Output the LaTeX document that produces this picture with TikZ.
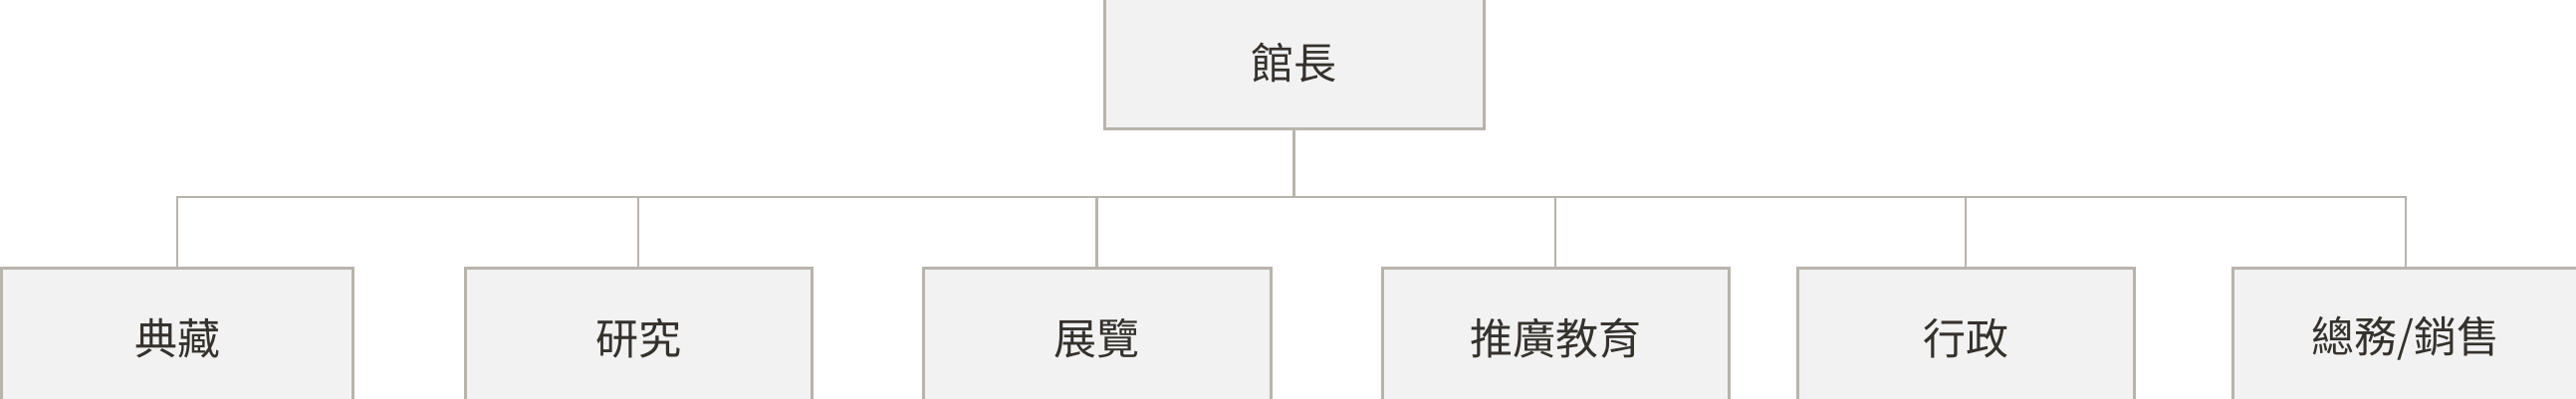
\documentclass[tikz,border=0pt]{standalone}
\usepackage{fontspec}
\newfontfamily\cjk{Noto Sans CJK TC}
\definecolor{boxfill}{HTML}{F2F2F2}
\definecolor{boxline}{HTML}{B8B4AC}
\definecolor{txt}{HTML}{35312D}
\tikzset{
  orgbox/.style={draw=boxline, fill=boxfill, line width=3bp, inner sep=0pt,
    minimum width=350bp, minimum height=142bp, text=txt,
    font=\cjk\fontsize{43bp}{50bp}\selectfont},
  conn/.style={draw=boxline, line width=2.8bp}
}
\begin{document}
\begin{tikzpicture}[x=1bp,y=-1bp]
\useasboundingbox (0,0) rectangle (2587,400);
\clip (0,0) rectangle (2587,400);
\fill[white] (0,0) rectangle (2587,400);
\node[orgbox, minimum width=381bp, minimum height=132bp] (top) at (1299.5,63) {館長};
\node[orgbox, minimum width=352bp] (c1) at (178,340) {典藏};
\node[orgbox, minimum width=348bp] (c2) at (641,340) {研究};
\node[orgbox, minimum width=349bp] (c3) at (1101.5,340) {展覽};
\node[orgbox, minimum width=348bp] (c4) at (1562,340) {推廣教育};
\node[orgbox, minimum width=338bp] (c5) at (1974,340) {行政};
\node[orgbox, minimum width=348bp] (c6) at (2416,340) {總務/銷售};
\coordinate (bus) at (0,198);
\draw[conn] (top.south) -- (top.south |- bus);
\draw[conn] (c1.north) |- (c6.north |- bus) -- (c6.north);
\foreach \c in {c2,c3,c4,c5} \draw[conn] (\c.north) -- (\c.north |- bus);
\end{tikzpicture}
\end{document}
